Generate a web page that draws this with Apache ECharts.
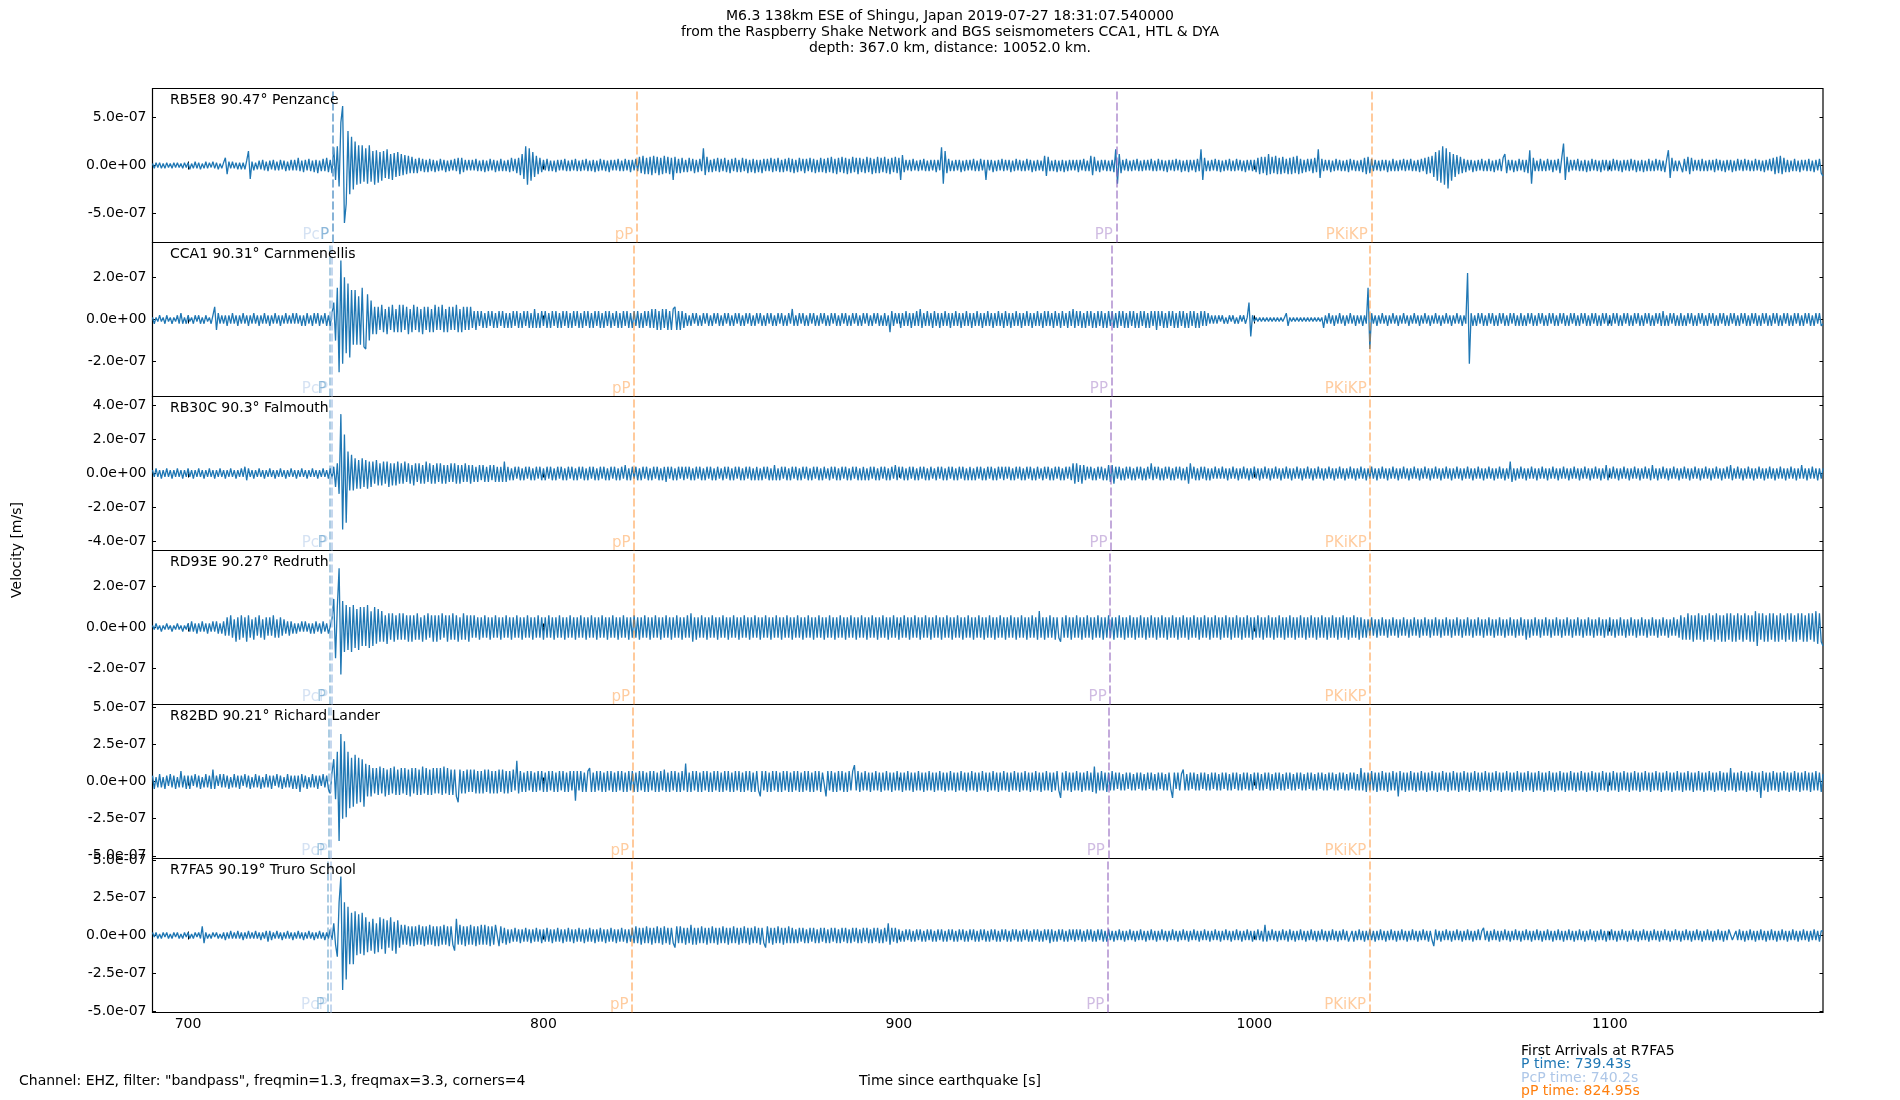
<!DOCTYPE html>
<html>
<head>
<meta charset="utf-8">
<title>M6.3 Shingu - Raspberry Shake / BGS</title>
<script src="https://cdn.jsdelivr.net/npm/echarts@6.0.0/dist/echarts.min.js"></script>
<style>
  html, body { margin: 0; padding: 0; background: #fff; }
  #main { width: 1900px; height: 1100px; }
</style>
</head>
<body>
<div id="main"></div>
<script>
var T0 = 690, DT = 0.5, UNIT = 1e-8;

var stations = ['RB5E8 90.47° Penzance', 'CCA1 90.31° Carnmenellis', 'RB30C 90.3° Falmouth',
                'RD93E 90.27° Redruth', 'R82BD 90.21° Richard Lander', 'R7FA5 90.19° Truro School'];

var yLimits = [8.04e-7, 3.65e-7, 4.54e-7, 3.77e-7, 5.18e-7, 5.09e-7];
var yTicks = [
  [-5e-7, 0, 5e-7],
  [-2e-7, 0, 2e-7],
  [-4e-7, -2e-7, 0, 2e-7, 4e-7],
  [-2e-7, 0, 2e-7],
  [-5e-7, -2.5e-7, 0, 2.5e-7, 5e-7],
  [-5e-7, -2.5e-7, 0, 2.5e-7, 5e-7]
];
var xTicks = [700, 800, 900, 1000, 1100];

// arrival times per station (s), top to bottom
var arrPcP   = [740.62, 740.41, 740.40, 740.36, 740.27, 740.20];
var arrP     = [740.70, 739.98, 739.94, 739.80, 739.52, 739.43];
var arrpP    = [826.24, 825.50, 825.46, 825.32, 825.05, 824.95];
var arrPP    = [961.2, 959.8, 959.7, 959.45, 958.95, 958.8];
var arrPKiKP = [1032.9, 1032.6, 1032.6, 1032.55, 1032.5, 1032.45];

var trRB5E8 = [
2,-3,3,-2,3,-3,2,-3,3,-2,2,-3,3,-2,3,-2,2,-3,3,-2,
3,-4,2,-3,4,-3,3,-4,2,-3,4,-3,3,-2,4,-3,3,-4,2,-3,
3,8,-9,4,-3,4,-3,3,-4,3,-4,3,-4,5,15,-14,4,-5,3,-4,
5,-4,6,-5,4,-6,5,-4,6,-5,4,-5,6,-4,5,-6,4,-5,6,-5,
6,-5,8,-6,5,-7,6,-5,7,-6,5,-7,6,-8,5,-6,7,-6,8,-7,
6,-8,19,-15,20,-22,45,62,-60,-40,36,-30,30,-25,25,-20,21,-19,21,-17,
18,-19,21,-17,15,-20,16,-18,14,-16,15,-13,17,-14,12,-15,13,-12,14,-11,
12,-10,11,-9,10,-8,9,-8,7,-8,8,-6,7,-7,6,-7,7,-6,6,-7,
5,-6,7,-5,6,-7,5,-6,6,-5,7,-6,8,-9,8,-7,6,-5,6,-5,
6,-5,7,-6,5,-6,6,-7,5,-6,7,-5,6,-7,5,-6,7,-6,5,-6,
6,-7,8,-6,7,-8,8,-10,12,-14,20,-20,18,-16,14,-12,10,-9,8,-7,
6,-5,7,-6,5,-6,5,-7,6,-5,6,-5,7,-6,5,-6,6,-5,7,-6,
5,-6,6,-5,7,-6,5,-6,6,-7,5,-6,7,-5,6,-6,5,-7,6,-5,
6,-5,7,-6,5,-6,7,-5,6,-7,6,-5,7,-6,9,-8,10,-9,8,-9,
9,-10,10,-8,9,-10,8,-9,10,-8,9,-9,8,-15,9,-8,7,-8,8,-7,
6,-7,8,-6,7,-8,6,-7,7,-6,18,-10,9,-7,6,-7,7,-6,8,-7,
7,-6,8,-7,6,-8,7,-6,8,-7,6,-7,8,-6,7,-8,6,-7,7,-8,
6,-7,6,-8,7,-6,7,-6,8,-7,7,-6,8,-7,6,-7,7,-6,8,-7,
7,-8,6,-7,8,-6,7,-8,7,-6,8,-7,7,-8,6,-7,8,-7,7,-8,
8,-7,9,-8,7,-9,8,-7,9,-8,8,-9,7,-8,9,-7,8,-9,8,-7,
7,-8,9,-7,8,-9,7,-8,9,-8,8,-7,9,-8,7,-9,8,-7,9,-8,
8,-15,11,-7,6,-5,6,-6,7,-5,5,-6,6,-5,7,-6,5,-6,6,-5,
6,-7,6,-5,19,-19,15,-8,7,-6,5,-6,6,-5,6,-7,5,-6,6,-5,
6,-5,7,-6,5,-6,7,-5,6,-15,6,-5,6,-7,5,-6,6,-5,7,-6,
6,-5,6,-7,5,-6,7,-5,6,-6,5,-6,7,-5,6,-7,5,-6,6,-5,
5,-6,10,-11,9,-6,5,-6,6,-7,5,-6,6,-7,5,-6,6,-5,6,-5,
6,-7,6,-5,7,-6,5,-6,10,-10,9,-6,5,-7,6,-5,6,-6,5,-6,
6,-7,17,-19,12,-8,6,-5,7,-6,5,-6,6,-5,7,-6,5,-6,6,-5,
6,-5,7,-6,5,-6,7,-5,6,-6,5,-7,6,-5,6,-6,7,-5,6,-7,
5,-6,6,-7,6,-5,6,-7,7,-6,17,-15,8,-6,5,-6,6,-5,7,-6,
6,-7,5,-6,6,-5,7,-6,5,-6,7,-5,6,-6,5,-7,6,-5,6,-6,
6,-7,8,-9,9,-8,9,-10,12,-9,9,-8,10,-9,8,-9,9,-8,7,-9,
8,-9,9,-8,10,-9,7,-8,6,-7,7,-6,7,-8,8,-7,17,-13,7,-6,
6,-5,6,-7,5,-6,7,-5,6,-6,5,-6,6,-7,7,-5,6,-6,5,-6,
6,-7,8,-9,9,-8,7,-6,6,-5,5,-6,6,-5,6,-7,5,-6,7,-6,
5,-6,6,-5,7,-6,6,-5,7,-6,5,-6,6,-7,7,-6,8,-9,9,-8,
10,-12,14,-16,16,-18,20,-20,18,-24,14,-16,12,-12,11,-9,9,-8,7,-7,
6,-5,6,-7,5,-6,6,-5,7,-6,5,-6,7,-6,5,-7,6,-5,7,-6,
8,12,-8,6,-5,6,-7,5,-6,7,-5,6,-7,6,-8,16,-19,8,-6,5,
-6,7,-6,5,-6,7,-5,6,-7,6,-5,7,-8,8,23,-15,9,-7,6,-5,
6,-5,7,-6,5,-6,6,-7,5,-6,7,-5,6,-6,5,-7,6,-5,6,-6,
5,-6,7,-5,6,-6,5,-7,6,-5,6,-6,7,-5,6,-7,5,-6,6,-7,
5,-6,7,-6,5,-6,7,-5,6,-6,5,-7,6,16,-13,8,-6,5,-6,5,
6,-7,7,-6,9,-9,8,-6,6,-5,6,-6,7,-6,5,-6,6,-5,6,-7,
7,-5,6,-6,5,-7,6,-5,6,-7,5,-6,7,-5,6,-6,7,-5,6,-6,
5,-6,7,-5,6,-6,5,-7,6,-5,7,-6,8,-9,9,-8,10,-9,8,-7,
6,-7,5,-6,7,-6,5,-7,6,-5,6,-6,7,-6,5,-7,6,-5,7,-8,
-11
];

var trCCA1 = [
1,-2,1,-1,2,-1,1,-2,2,-1,1,-2,1,-1,2,-2,3,-2,1,-2,
2,-1,1,-2,2,-1,2,-2,1,-2,2,-1,1,-2,2,6,-5,3,-2,2,
-2,2,-3,2,-2,3,-2,2,-3,2,-2,3,-2,2,-3,2,-2,3,-2,2,
-3,2,-2,3,-2,2,-3,2,-2,3,-2,2,-3,2,-2,3,-2,2,-2,3,
-2,3,-2,2,-3,2,-3,3,-2,2,-3,3,-2,3,-3,2,-2,3,-3,2,
-3,3,8,-10,15,-25,28,-21,20,-16,17,-18,14,-12,14,-12,11,-12,15,-13,
-14,12,-10,9,-7,6,-7,6,-5,7,-6,5,-7,6,-5,7,-6,5,-6,7,
-6,7,-5,6,-7,5,-6,7,-5,6,-6,5,-7,6,-5,6,-6,5,-6,7,
-5,6,-5,7,-6,5,-6,6,-5,6,-5,7,-6,5,-6,6,-5,6,-5,6,
-4,4,-5,4,-3,4,-4,3,-4,4,-3,4,-4,3,-4,4,-3,4,-4,3,
-4,3,-4,4,-3,4,-4,3,-4,4,-3,4,-4,3,-4,5,-4,3,-4,4,
-3,4,-4,3,-4,4,-3,4,-4,3,-4,4,-3,4,-4,3,-4,4,-3,4,
-4,3,-4,4,-3,4,-4,3,-4,4,-3,4,-4,3,-4,4,-3,4,-4,3,
-3,4,-4,3,-4,4,-3,4,-4,3,-4,4,-3,4,-4,3,-4,4,-3,4,
-4,5,-4,5,-5,4,-5,5,-4,5,-5,4,-5,5,6,-5,4,-5,4,-4,
3,-3,2,-3,3,-2,3,-3,2,-3,3,-2,3,-3,2,-3,3,-2,3,-3,
2,-3,3,-2,3,-3,2,-3,3,-2,3,-3,2,-3,3,-2,3,-3,2,-3,
3,-2,3,-3,2,-3,3,-2,3,-3,2,-3,3,-2,3,-3,2,-3,3,-2,
5,-3,2,-3,3,-2,3,-3,2,-3,3,-2,3,-3,2,-3,3,-2,3,-3,
2,-3,3,-2,3,-3,2,-3,3,-2,3,-3,2,-3,3,-2,3,-3,2,-3,
3,-2,3,-3,2,-3,3,-2,3,-3,2,-3,3,-3,2,-6,4,-3,3,-2,
3,-4,3,-3,4,-3,3,-4,3,-3,4,-3,5,-4,3,-3,4,-3,3,-4,
4,-3,3,-4,3,-3,4,-3,3,-4,3,-3,4,-3,3,-4,3,-3,4,-3,
3,-4,3,-3,4,-3,3,-4,3,-3,4,-3,3,-4,3,-3,4,-3,3,-4,
4,-3,3,-4,3,-3,4,-3,3,-4,3,-3,4,-3,3,-4,3,-3,4,-3,
3,-4,4,-3,4,-3,3,-4,4,-3,3,-4,4,-3,3,-4,4,-3,5,-4,
4,-3,4,-4,3,-4,4,-3,4,-4,3,-4,4,-3,4,-4,3,-4,4,-3,
4,-4,3,-4,4,-3,4,-4,3,-4,4,-3,4,-4,3,-4,4,-3,4,-4,
3,-4,4,-3,4,-5,4,-3,4,-4,3,-4,4,-3,4,-4,3,-4,4,-3,
4,-4,3,-4,4,-3,4,-4,3,-4,4,-3,4,-3,3,-2,2,-2,2,-2,
2,-1,2,-2,1,-2,2,-1,2,-2,1,-2,2,-1,2,-2,1,8,-8,2,
-1,1,-1,1,-1,1,-1,1,-1,1,-1,1,-1,1,-1,1,-1,1,3,-3,
1,-1,1,-1,1,-1,1,-1,1,-1,1,-1,1,-1,1,-1,1,-1,1,-4,
2,-2,3,-2,2,-3,2,-2,3,-2,2,-3,2,-2,3,-2,2,-3,2,-2,
2,-3,2,-2,15,-14,3,-2,2,-3,2,-2,3,-2,2,-3,2,-2,3,-2,
2,-3,2,-2,3,-2,2,-3,2,-2,3,-2,2,-3,2,-2,3,-2,2,-3,
2,-2,3,-2,2,-3,2,-2,3,-2,2,-3,2,-2,3,-2,2,-3,2,-2,
22,-21,3,-3,2,-3,3,-2,3,-3,2,-3,3,-2,3,-3,2,-3,3,-2,
3,-3,2,-3,3,-2,3,-3,2,-3,3,-3,2,-3,3,-2,3,-3,2,-3,
3,-2,3,-3,2,-3,3,-2,3,-3,2,-3,3,-2,3,-3,2,-3,3,-2,
3,-3,2,-3,3,-2,3,-3,2,-3,3,-2,3,-3,2,-3,3,-2,3,-3,
2,-3,3,-2,3,-3,2,-3,3,-2,3,-3,2,-3,3,-2,3,-3,2,-3,
3,-2,3,-3,2,-3,3,-2,3,-3,4,-3,2,-3,3,-2,3,-3,2,-3,
3,-3,2,-3,3,-2,3,-3,2,-3,3,-2,3,-3,2,-3,3,-2,3,-3,
2,-3,3,-2,3,-3,2,-3,3,-2,3,-3,2,-3,3,-2,3,-3,2,-3,
3,-2,3,-3,2,-3,3,-2,3,-3,2,-3,3,-2,3,-3,2,-3,3,-2,
3,-3,2,-3,3,-2,3,-3,2,-3,3,-2,3,-3,2,-3,3,-2,3,-3,
-2
];

var trRB30C = [
2,-2,3,-2,2,-3,2,-2,3,-2,2,-3,2,-2,3,-2,2,-3,2,-2,
3,-2,2,-3,2,-2,3,-2,2,-3,2,-2,3,-2,2,-3,2,-2,3,-2,
2,-3,2,-2,3,-2,2,-3,2,-2,3,-2,4,-4,3,-2,2,-3,2,-2,
3,-2,2,-3,2,-2,3,-2,2,-3,2,-2,3,-2,2,-3,2,-2,3,-2,
2,-3,2,-2,3,-2,2,-3,2,-2,3,-2,2,-3,2,-2,3,-2,2,-3,
3,-3,4,-8,6,-12,35,-33,23,-29,13,-10,11,-10,9,-9,8,-9,9,-8,
8,-9,7,-8,7,-6,8,-7,6,-7,7,-6,7,-8,6,-7,6,-7,7,-6,
6,-6,7,-5,6,-6,5,-7,6,-5,6,-6,5,-6,7,-5,6,-6,5,-6,
6,-5,6,-6,5,-6,5,-5,6,-5,6,-6,5,-6,5,-5,6,-5,5,-6,
5,-5,4,-5,5,-4,5,-5,4,-5,5,-4,5,-5,4,-5,4,-5,7,-5,
4,-4,3,-4,4,-3,4,-4,3,-4,4,-3,4,-4,3,-4,4,-3,4,-4,
3,-4,4,-3,4,-4,3,-4,4,-3,4,-4,3,-4,4,-3,4,-4,3,-4,
4,-3,4,-4,3,-4,4,-3,4,-4,3,-4,4,-3,4,-4,3,-4,4,-3,
4,-4,3,-4,4,-3,5,-4,3,-4,4,-3,4,-4,3,-4,4,-3,4,-4,
3,-4,4,-3,4,-4,3,-4,4,-5,4,-3,4,-4,3,-4,4,-3,4,-4,
4,-3,4,-4,3,-4,4,-3,4,-4,3,-4,4,-3,4,-4,3,-4,4,-3,
3,-4,4,-3,4,-4,3,-4,4,-3,4,-4,3,-4,4,-3,4,-4,3,-4,
4,-4,3,-4,4,-3,4,-4,3,-4,5,-4,3,-4,4,-3,4,-4,3,-4,
4,-3,4,-4,3,-4,4,-3,4,-4,3,-4,4,-3,4,-4,3,-4,4,-3,
3,-4,4,-3,4,-4,3,-4,4,-3,4,-4,3,-4,4,-3,4,-4,3,-4,
4,-4,3,-4,4,-3,4,-4,3,-4,4,-3,4,-4,3,-4,4,-3,5,-4,
4,-3,4,-4,3,-4,4,-3,4,-4,3,-4,4,-3,4,-4,3,-4,4,-3,
3,-4,4,-3,4,-4,3,-4,4,-3,4,-4,3,-4,4,-3,4,-4,3,-4,
4,-4,3,-4,4,-3,4,-4,3,-4,4,-3,4,-4,3,-4,4,-3,4,-4,
4,-3,4,-4,3,-4,4,-3,4,-4,3,-4,4,-3,4,-4,3,-4,4,-3,
3,-4,4,-3,4,-4,3,-4,4,-3,4,-4,3,-4,4,-3,4,-4,6,-6,
6,-5,5,-6,5,-4,4,-3,4,-4,3,-4,4,-3,4,-4,3,-4,5,-5,
5,-6,4,-3,4,-4,3,-4,4,-3,4,-4,3,-4,4,-3,4,-4,3,-4,
4,-3,6,-4,4,-3,4,-4,3,-4,4,-3,4,-4,3,-4,4,-3,4,-4,
3,-4,4,-6,6,-3,4,-4,3,-4,4,-3,4,-4,3,-4,3,-3,4,-3,
3,-3,4,-3,3,-4,3,-3,4,-3,3,-4,3,-3,4,-3,3,-4,3,-3,
4,-3,3,-4,3,-3,4,-3,3,-4,3,-3,4,-3,3,-4,3,-3,4,-3,
3,-4,3,-3,4,-3,3,-4,3,-3,4,-3,3,-4,3,-3,4,-3,3,-4,
3,-3,4,-3,3,-4,3,-3,4,-3,3,-4,3,-3,4,-3,3,-4,3,-3,
4,-3,3,-4,3,-3,4,-3,3,-4,3,-3,4,-3,3,-4,3,-3,4,-3,
3,-4,3,-3,4,-3,3,-4,3,-3,4,-3,3,-4,3,-3,4,-3,3,-4,
3,-3,4,-3,3,-4,3,-3,4,-3,3,-4,3,-3,4,-3,3,-4,3,-3,
4,-3,3,-4,3,-3,4,-3,3,-4,3,-3,4,-3,3,-4,3,-3,4,-3,
3,-4,3,-3,7,-5,3,-4,3,-3,4,-3,3,-4,3,-3,4,-3,3,-4,
3,-3,4,-3,3,-4,3,-3,4,-3,3,-4,3,-3,4,-3,3,-4,3,-3,
4,-3,3,-4,3,-3,4,-3,3,-4,3,-3,4,-3,3,-4,3,-3,5,-4,
3,-3,4,-3,3,-4,3,-3,4,-3,3,-4,3,-3,4,-3,3,-4,3,-3,
4,-3,3,-4,5,-3,3,-4,3,-3,4,-3,3,-4,3,-3,4,-3,3,-4,
3,-3,4,-3,3,-4,3,-3,4,-3,3,-4,3,-3,4,-3,3,-4,3,-3,
4,-3,3,-4,3,-3,4,-3,5,-4,3,-3,4,-3,3,-4,3,-3,4,-3,
3,-4,3,-3,4,-3,3,-4,3,-3,4,-3,3,-4,3,-3,4,-3,3,-4,
3,-3,4,-3,3,-4,3,-3,5,-3,3,-4,3,-3,4,-3,3,-4,3,-3,
3
];

var trRD93E = [
1,-1,2,-1,1,-2,1,-1,2,-1,1,-2,1,-1,2,-1,1,-2,1,-1,
2,-2,3,-2,2,-3,2,-2,3,-2,2,-3,2,-2,3,-2,3,-3,2,-3,
3,-4,5,-4,6,-5,4,-7,5,-6,6,-5,5,-7,6,-5,4,-6,5,-4,
6,-5,4,-6,5,-4,5,-4,6,-5,4,-5,5,-4,4,-3,3,-4,3,-3,
2,-3,2,-2,3,-2,3,-2,2,-3,2,-3,3,-2,2,-3,3,-2,2,-3,
-3,4,14,-15,10,29,-23,13,-12,11,-11,10,-12,11,-10,9,-11,10,-9,10,
-9,11,-10,8,-9,10,-8,9,-7,8,-7,6,-8,7,-6,7,-7,6,-6,7,
-6,7,-6,6,-7,6,-7,6,-6,7,-6,5,-7,6,-6,7,-5,6,-7,6,
-7,6,-6,7,-5,6,-7,6,-6,7,-6,6,-7,5,-6,7,-6,6,-7,6,
-5,6,-5,5,-6,5,-5,6,-5,5,-6,5,-5,6,-5,5,-6,5,-5,6,
-5,5,-6,5,-5,6,-5,5,-6,5,-5,6,-5,5,-6,5,-5,6,-5,5,
-6,5,-5,6,-5,5,-6,5,-5,6,-5,5,-6,5,-5,6,-5,5,-6,5,
-5,6,-5,5,-6,5,-5,6,-5,5,-6,5,-5,6,-5,5,-6,5,-5,6,
-5,5,-6,5,-5,6,-5,5,-6,5,-5,6,-5,5,-6,5,-5,6,-5,5,
-6,5,-5,6,-5,5,-6,5,-5,6,-5,5,-6,5,-5,6,-5,5,-6,5,
-5,6,-5,7,-7,5,-6,5,-5,6,-5,5,-6,5,-5,6,-5,5,-6,5,
-5,6,-5,5,-6,5,-5,6,-5,5,-6,5,-5,6,-5,5,-6,5,-5,6,
-5,5,-6,5,-5,6,-5,5,-6,5,-5,6,-5,5,-6,5,-5,6,-5,5,
-6,5,-5,6,-5,5,-6,5,-5,6,-5,5,-6,5,-5,6,-5,5,-6,5,
-5,6,-5,5,-6,5,-5,6,-5,5,-6,5,-5,6,-5,5,-6,5,-5,6,
-5,5,-6,5,-5,6,-5,5,-6,5,-5,6,-5,5,-6,5,-5,6,-5,5,
-6,5,-5,6,-5,5,-6,5,-5,6,-5,5,-6,5,-5,6,-5,5,-6,5,
-5,6,-5,5,-6,5,-5,6,-5,5,-6,5,-5,6,-5,5,-6,5,-5,6,
-5,5,-6,5,-5,6,-5,5,-6,5,-5,6,-5,5,-6,5,-5,6,-5,5,
-6,5,-5,6,-5,5,-6,5,-5,6,-5,5,-6,5,-5,6,-5,5,-6,8,
-5,5,-6,5,-5,6,-5,5,-6,5,-5,-7,5,-5,6,-5,5,-6,5,-5,
6,-5,5,-6,5,-5,6,-5,5,-6,5,-5,6,-5,5,-6,5,-5,6,-5,
5,-6,5,-5,6,-5,5,-6,5,-5,6,-5,5,-6,5,-5,6,-5,5,-6,
5,-5,6,-5,5,-6,5,-5,6,-5,5,-6,5,-5,6,-5,5,-6,5,-5,
6,-5,5,-6,5,-5,6,-5,5,-6,5,-5,6,-5,5,-6,5,-5,6,-5,
5,-6,5,-5,6,-5,5,-6,5,-5,6,-5,5,-6,5,-5,6,-5,5,-6,
5,-5,6,-5,5,-6,5,-5,6,-5,5,-6,5,-5,6,-5,5,-6,5,-5,
6,-5,5,-6,5,-5,6,-5,5,-6,5,-5,6,-5,5,-6,5,-5,6,-5,
5,-6,5,-5,6,-5,5,-6,5,-5,6,-5,5,-6,5,-5,6,-5,5,-6,
5,-5,4,-5,4,-4,5,-4,4,-5,4,-4,5,-4,4,-5,4,-4,5,-4,
4,-5,4,-4,5,-4,4,-5,4,-4,5,-4,4,-5,4,-4,5,-4,4,-5,
4,-4,5,-4,4,-5,4,-4,5,-4,4,-5,4,-4,5,-4,4,-5,4,-4,
5,-4,4,-5,4,-4,5,-4,4,-5,4,-4,5,-4,4,-5,4,-4,5,-4,
4,-5,4,-4,5,-4,4,-5,4,-4,5,-4,4,-6,4,-5,4,-4,5,-4,
4,-5,4,-4,5,-4,4,-5,4,-4,5,-4,4,-5,4,-4,5,-4,4,-5,
4,-4,5,-4,4,-5,4,-4,5,-4,4,-5,4,-4,5,-4,4,-5,4,-4,
5,-4,4,-5,4,-4,5,-4,4,-5,4,-4,5,-4,4,-5,4,-4,5,-4,
4,-5,4,-4,5,-4,4,-5,4,-4,5,-4,4,-5,4,-4,5,-4,4,-5,
6,-6,5,-6,7,-6,6,-7,6,-6,7,-6,6,-7,6,-6,7,-6,6,-7,
7,-6,6,-7,6,-7,7,-6,7,-7,6,-7,7,-6,6,-7,7,-6,6,-7,
6,-7,8,-9,7,-6,7,-7,6,-7,7,-6,7,-7,6,-7,7,-6,6,-7,
7,-6,7,-7,6,-7,7,-6,7,-7,6,-7,7,-6,7,-7,8,-8,7,-7,
-9
];

var trR82BD = [
4,-5,3,-4,5,-4,3,-5,4,-3,5,-4,4,-5,3,-4,7,-4,4,-5,
4,-5,4,-3,5,-4,4,-5,3,-4,5,-4,4,-5,8,-5,4,-3,5,-4,
5,-4,4,-5,3,-4,5,-4,4,-5,4,-3,5,-4,4,-5,3,-4,5,-4,
4,-5,3,-4,5,-4,4,-5,4,-3,5,-4,4,-5,3,-4,5,-4,4,-5,
4,-5,4,-7,5,-4,4,-5,3,-4,5,-4,4,-5,4,-3,5,-4,4,-5,
-8,6,15,-12,20,-40,32,-25,27,-24,20,-18,16,-17,18,-15,16,-14,15,-17,
12,-10,11,-10,9,-8,9,-9,10,-8,9,-10,8,-9,9,-8,10,-9,8,-9,
9,-8,9,-9,8,-10,9,-8,9,-9,8,-9,10,-8,9,-9,8,-9,9,-8,
9,-8,9,-9,10,-8,9,-9,8,-9,8,-10,-14,8,-8,7,-8,8,-7,8,
-7,8,-8,7,-8,7,-8,8,-7,8,-8,7,-8,7,-8,8,-7,8,-8,7,
-8,7,-7,8,-6,14,-8,7,-7,6,-7,7,-6,7,-7,6,-7,7,-6,7,
-7,6,-7,7,-6,7,-7,6,-7,7,-6,7,-7,6,-7,7,-6,7,-13,7,
-6,7,-7,6,-7,7,9,-7,6,-7,7,-6,7,-7,6,-7,7,-6,7,-7,
6,-7,7,-6,7,-7,6,-7,7,-6,7,-7,6,-7,7,-6,7,-7,6,-7,
7,-6,7,-7,6,-7,7,-6,8,-7,6,-7,7,-6,7,-7,6,-7,7,-6,
12,-7,6,-7,7,-6,7,-7,6,-7,7,-6,7,-7,6,-7,7,-6,7,-7,
6,-7,7,-6,7,-7,6,-7,7,-6,7,-7,6,-7,7,-6,7,-7,6,-7,
7,-6,-10,7,-6,7,-7,6,-7,7,-6,7,-7,6,-7,7,-6,7,-7,6,
-7,7,-6,7,-7,6,-7,7,-6,7,-7,6,-7,7,-6,7,-7,6,7,-10,
7,-6,7,-7,6,-7,7,-6,7,-7,6,-7,7,-6,7,11,-6,7,-7,6,
-6,7,-6,6,-7,6,-6,7,-6,6,-7,6,-6,7,-6,6,-7,6,-6,7,
-6,6,-7,6,-6,7,-6,6,-7,6,-6,7,-6,6,-7,6,-6,7,-6,6,
-7,6,-6,7,-6,6,-7,6,-6,7,-6,6,-7,6,-6,7,-6,6,-7,6,
-6,7,-6,6,-7,6,-6,7,-6,6,-7,6,-6,7,-6,6,-7,6,-6,7,
-6,6,-7,6,-6,7,-6,6,-7,6,-6,7,-6,6,-7,6,-6,7,-6,6,
-7,6,-6,7,-6,6,-7,6,-6,7,-6,-11,6,-6,7,-6,6,-7,6,-6,
7,-6,6,-7,6,-6,7,-6,6,-7,10,-8,6,-6,7,-6,6,-7,6,-6,
7,-6,6,-5,6,-6,5,-6,6,-5,6,-6,5,-6,6,-5,6,-6,5,-6,
6,-5,6,-6,5,-6,6,-5,6,-6,5,-6,6,-5,-11,6,-5,6,-6,5,
8,-6,5,-6,6,-5,6,-6,5,-6,6,-5,6,-6,5,-6,6,-5,6,-6,
5,-6,6,-5,6,-6,5,-6,6,-5,6,-6,5,-6,6,-5,6,-6,5,-6,
6,-5,6,-6,5,-6,6,-5,6,-6,5,-6,6,-5,6,-6,5,-6,6,-5,
6,-6,5,-6,6,-5,6,-6,5,-6,6,-5,6,-6,5,-6,6,-5,6,-6,
5,-6,6,-5,6,-6,5,-6,6,-5,6,-6,5,-6,6,-5,6,-6,5,-6,
9,-6,6,-7,6,-6,7,-6,6,-7,6,-6,7,-6,6,-7,6,-6,7,-6,
6,-10,7,-6,6,-7,6,-6,7,-6,6,-7,6,-6,7,-6,6,-7,6,-6,
7,-6,6,-7,6,-6,7,-6,6,-7,6,-6,7,-6,6,-7,6,-6,7,-6,
6,-7,6,-6,7,-6,6,-7,6,-6,7,-6,6,-7,6,-6,7,-6,6,-7,
6,-6,7,-6,6,-7,6,-6,7,-6,6,-7,6,-6,7,-6,6,-7,6,-6,
7,-6,6,-7,6,-6,7,-6,6,-7,6,-6,7,-6,6,-7,6,-6,7,-6,
6,-7,6,-6,7,-6,6,-7,6,-6,7,-6,6,-7,6,-6,7,-6,6,-7,
6,-6,7,-6,6,-7,6,-6,7,-6,6,-7,6,-6,7,-6,6,-7,6,-6,
7,-6,6,-7,6,-6,7,-6,6,-7,6,-6,7,-6,6,-7,6,-6,7,-6,
6,-7,6,-6,7,-6,6,-7,6,-6,7,-6,6,-7,6,-6,7,-6,6,-7,
6,-6,7,-6,6,-7,6,-6,9,-6,6,-7,6,-6,7,-6,6,-7,6,-6,
7,-6,6,-7,6,-11,7,-6,6,-7,6,-6,7,-6,6,-7,6,-6,7,-6,
6,-7,6,-6,7,-6,6,-7,6,-6,7,-6,6,-7,6,-6,7,-6,6,-7,
5
];

var trR7FA5 = [
2,-1,2,-2,1,-2,2,-1,2,-2,1,-2,2,-1,2,-2,1,-2,2,-1,
2,-2,1,-2,2,-1,2,-2,6,-5,2,-2,1,-2,2,-1,2,-2,1,-2,
2,-3,2,-2,3,-2,2,-2,3,-2,2,-3,2,-2,3,-2,2,-2,3,-2,
2,-3,2,-2,3,-4,3,-3,2,-2,3,-2,2,-3,2,-2,3,-2,2,-3,
2,-2,3,-2,2,-3,2,-2,3,-2,2,-3,2,-2,3,-2,2,-3,2,-2,
4,-3,8,-6,-14,22,39,-36,22,-29,19,-19,15,-19,16,-13,14,-12,15,-13,
12,-11,9,-10,11,-12,8,-11,12,-9,11,-12,10,-8,12,-10,9,-12,10,-8,
7,-6,7,-6,6,-7,6,-7,6,-6,7,-6,6,-7,6,-6,7,-6,6,-7,
6,-7,6,-6,7,-6,6,-7,6,-6,-10,11,-6,7,-6,6,-7,6,-6,7,
-6,6,-7,6,-6,7,-6,7,-6,6,-7,6,-6,7,8,-7,6,-5,5,-6,
4,-5,4,-4,5,-4,4,-5,4,-4,5,-4,4,-5,4,-4,5,-4,4,-5,
4,-4,5,-4,4,-5,4,-4,5,-4,4,-5,4,-4,5,-4,4,-5,4,-4,
5,-4,4,-5,4,-4,5,-4,4,-5,4,-4,5,-4,4,-5,4,-4,5,-4,
4,-5,4,-4,5,-4,4,-5,4,-4,5,-5,6,-5,5,-6,5,-5,6,-5,
5,-6,5,-5,6,-5,5,-6,6,-5,5,-6,5,-5,-8,6,-5,6,-5,5,
-6,5,-5,7,-6,5,-6,5,-5,6,-5,5,-6,5,-5,6,-5,5,-6,5,
-5,6,-5,5,-6,5,-5,6,-5,5,-6,5,-5,6,-5,5,-6,5,-5,6,
-5,5,-6,5,-5,-8,6,-5,5,-6,5,-5,6,-5,5,-6,5,-5,6,-5,
5,-5,4,-5,5,-4,5,-5,4,-5,5,-4,5,-5,4,-5,5,-4,5,-5,
4,-5,5,-4,5,-5,4,-5,5,-4,5,-5,4,-5,5,-4,5,-5,4,-5,
5,-4,5,-5,4,-5,5,-4,5,-5,4,-5,5,-4,8,-6,5,-4,5,-5,
4,-4,3,-4,4,-3,4,-4,3,-4,4,-3,4,-4,3,-4,4,-3,4,-4,
3,-4,4,-3,4,-4,3,-4,4,-3,4,-4,3,-4,4,-3,4,-4,3,-4,
4,-3,4,-4,3,-4,4,-3,4,-4,3,-4,4,-3,4,-4,3,-4,4,-3,
4,-4,3,-4,4,-3,4,-4,3,-4,4,-3,4,-4,3,-4,4,-3,4,-4,
3,-4,4,-3,4,-5,4,-4,3,-4,4,-3,4,-4,3,-4,4,-3,4,-4,
4,-3,4,-4,3,-4,4,-3,4,-4,3,-4,4,-3,4,-4,3,-4,4,-3,
3,-4,3,-3,4,-3,3,-4,3,-3,4,-3,3,-4,3,-3,4,-3,3,-4,
3,-3,4,-3,3,-4,3,-3,4,-3,3,-4,3,-3,4,-3,3,-4,3,-3,
4,-3,3,-4,3,-3,4,-3,3,-4,3,-3,4,-3,3,-4,3,-3,4,-3,
3,-4,3,-3,4,-3,3,-4,3,-3,4,-3,3,-4,3,-3,4,-3,3,-4,
3,-3,4,-3,3,-4,7,-4,3,-3,4,-3,3,-4,3,-3,4,-3,3,-4,
4,-3,3,-4,3,-3,4,-3,3,-4,3,-3,4,-3,3,-4,3,-3,4,-3,
3,-4,3,-3,4,-3,3,-4,3,-3,4,-3,3,-4,-5,3,-4,3,-3,4,
-3,3,-4,3,-3,4,-3,3,-4,3,-3,4,-3,3,-4,3,-3,4,-3,3,
-4,3,-3,4,-3,3,-4,3,-3,4,-3,3,-4,3,-3,4,-3,3,-4,3,
-3,-7,4,-3,3,-4,3,-3,4,-3,3,-4,3,-3,4,-3,3,-4,3,-3,
4,-3,3,-4,3,-3,4,-3,3,5,-3,3,-4,3,-3,4,-3,3,-4,3,
-3,4,-3,3,-4,3,-3,4,-3,3,-4,3,-3,4,-3,3,-4,3,-3,4,
-3,3,-4,3,-3,4,-3,3,-4,3,-3,4,-3,3,-4,3,-3,4,-3,3,
-4,3,-3,4,-3,3,-4,3,-3,4,-3,3,-4,3,-3,4,-3,3,-4,3,
-3,4,-3,3,-4,3,-3,4,-3,3,-4,3,-3,4,-3,3,-4,3,-3,4,
-3,3,-4,3,-3,4,-3,3,-4,3,-3,4,-3,3,-4,3,-3,4,-3,3,
-4,3,-3,4,-3,3,-4,3,-3,4,-3,3,-4,3,-3,4,-3,3,-4,3,
-3,4,-3,3,-4,3,-3,4,5,-3,-4,3,-3,4,-3,3,-4,3,-3,4,
-3,3,-4,3,-3,4,-3,3,-4,3,-3,4,-3,3,-4,3,-3,4,-3,3,
-4,3,-3,4,-3,3,-4,3,-3,4,-3,3,-4,3,-3,4,-3,3,-4,3,
3
];

var traces = [trRB5E8, trCCA1, trRB30C, trRD93E, trR82BD, trR7FA5];
var arrivals = { PcP: arrPcP, P: arrP, pP: arrpP, PP: arrPP, PKiKP: arrPKiKP };

// ---- styling / layout ----
var FONT = 'DejaVu Sans';
var GRID_LEFT = 152.5, GRID_W = 1670.5, GRID_TOP = 88.5, PANEL_H = 154;
var phaseStyle = {
  PcP:   { line: 'rgba(174,199,232,0.95)', text: 'rgba(174,199,232,0.65)' },
  P:     { line: 'rgba(31,119,180,0.5)',   text: 'rgba(31,119,180,0.5)' },
  pP:    { line: 'rgba(255,127,14,0.55)',  text: 'rgba(255,127,14,0.5)' },
  PP:    { line: 'rgba(148,103,189,0.75)', text: 'rgba(148,103,189,0.55)' },
  PKiKP: { line: 'rgba(255,127,14,0.55)',  text: 'rgba(255,127,14,0.5)' }
};
var phaseOrder = ['PcP', 'P', 'pP', 'PP', 'PKiKP'];

function sci(v) {
  if (Math.abs(v) < 1e-20) return '0.0e+00';
  var p = v.toExponential(1).split('e');
  var e = parseInt(p[1], 10);
  var ae = Math.abs(e);
  return p[0] + 'e' + (e < 0 ? '-' : '+') + (ae < 10 ? '0' : '') + ae;
}

var grids = [], xAxes = [], yAxes = [], series = [], titles = [];

titles.push({
  text: 'M6.3 138km ESE of Shingu, Japan 2019-07-27 18:31:07.540000\n' +
        'from the Raspberry Shake Network and BGS seismometers CCA1, HTL & DYA\n' +
        'depth: 367.0 km, distance: 10052.0 km.',
  left: 'center', top: 9, padding: 0,
  textStyle: { fontFamily: FONT, fontSize: 14, fontWeight: 'normal', color: '#000', lineHeight: 15.7 }
});

for (var i = 0; i < 6; i++) {
  var L = yLimits[i];
  grids.push({
    left: GRID_LEFT, width: GRID_W, top: GRID_TOP + i * PANEL_H, height: PANEL_H,
    show: true, borderColor: '#000', borderWidth: 1.2, backgroundColor: 'transparent'
  });
  var tickStyle = { show: true, inside: true, length: 4, lineStyle: { color: '#000', width: 1 } };
  xAxes.push({
    type: 'value', gridIndex: i, min: T0, max: 1160, position: 'bottom',
    axisLine: { show: false }, splitLine: { show: false },
    axisTick: Object.assign({ customValues: xTicks }, tickStyle),
    axisLabel: {
      show: i === 5, customValues: xTicks, margin: 5, fontFamily: FONT, fontSize: 14, color: '#000',
      formatter: function (v) { return String(v); }
    }
  });
  xAxes.push({
    type: 'value', gridIndex: i, min: T0, max: 1160, position: 'top',
    axisLine: { show: false }, splitLine: { show: false },
    axisTick: Object.assign({ customValues: xTicks }, tickStyle),
    axisLabel: { show: false }
  });
  yAxes.push({
    type: 'value', gridIndex: i, min: -L, max: L, position: 'left',
    axisLine: { show: false }, splitLine: { show: false },
    axisTick: Object.assign({ customValues: yTicks[i] }, tickStyle, { length: 3.5 }),
    axisLabel: { customValues: yTicks[i], formatter: sci, margin: 6, fontFamily: FONT, fontSize: 14, color: '#000' }
  });
  yAxes.push({
    type: 'value', gridIndex: i, min: -L, max: L, position: 'right',
    axisLine: { show: false }, splitLine: { show: false },
    axisTick: Object.assign({ customValues: yTicks[i] }, tickStyle, { length: 3.5 }),
    axisLabel: { show: false }
  });

  var data = traces[i].map(function (v, k) { return [T0 + k * DT, v * UNIT]; });
  var lines = [], labels = [];
  phaseOrder.forEach(function (ph) {
    var t = arrivals[ph][i];
    lines.push({ xAxis: t, lineStyle: { color: phaseStyle[ph].line, width: 1.5, type: [8, 3] } });
    labels.push({ name: ph, value: [t, -L], label: { color: phaseStyle[ph].text } });
  });

  series.push({
    type: 'line', xAxisIndex: 2 * i, yAxisIndex: 2 * i, data: data,
    symbol: 'none', showSymbol: false, silent: true, animation: false,
    lineStyle: { color: '#1f77b4', width: 1.3 },
    markLine: { silent: true, animation: false, symbol: ['none', 'none'], label: { show: false }, data: lines }
  });
  series.push({
    type: 'scatter', xAxisIndex: 2 * i, yAxisIndex: 2 * i, data: labels,
    symbolSize: 1, itemStyle: { color: 'rgba(0,0,0,0)' }, silent: true, animation: false,
    label: {
      show: true, formatter: '{b}', position: [-3, 1], align: 'right', verticalAlign: 'bottom',
      fontFamily: FONT, fontSize: 15
    }
  });

  titles.push({
    text: stations[i], left: 170, top: 93.5 + i * PANEL_H, padding: 0,
    textStyle: { fontFamily: FONT, fontSize: 14, fontWeight: 'normal', color: '#000' }
  });
}

function txt(x, y, s, color, align, rot) {
  return {
    type: 'text', x: x, y: y, rotation: rot || 0, silent: true,
    style: { text: s, fill: color, fontFamily: FONT, fontSize: 14, align: align, verticalAlign: 'middle' }
  };
}

var chart = echarts.init(document.getElementById('main'), null, { renderer: 'canvas' });
chart.setOption({
  backgroundColor: '#fff',
  animation: false,
  title: titles,
  grid: grids,
  xAxis: xAxes,
  yAxis: yAxes,
  series: series,
  graphic: [
    txt(17, 550, 'Velocity [m/s]', '#000', 'center', Math.PI / 2),
    txt(19, 1081, 'Channel: EHZ, filter: "bandpass", freqmin=1.3, freqmax=3.3, corners=4', '#000', 'left'),
    txt(950, 1081, 'Time since earthquake [s]', '#000', 'center'),
    txt(1521, 1051, 'First Arrivals at R7FA5', '#000', 'left'),
    txt(1521, 1064.5, 'P time: 739.43s', '#1f77b4', 'left'),
    txt(1521, 1078, 'PcP time: 740.2s', '#aec7e8', 'left'),
    txt(1521, 1091.5, 'pP time: 824.95s', '#ff7f0e', 'left')
  ]
});
</script>
</body>
</html>
